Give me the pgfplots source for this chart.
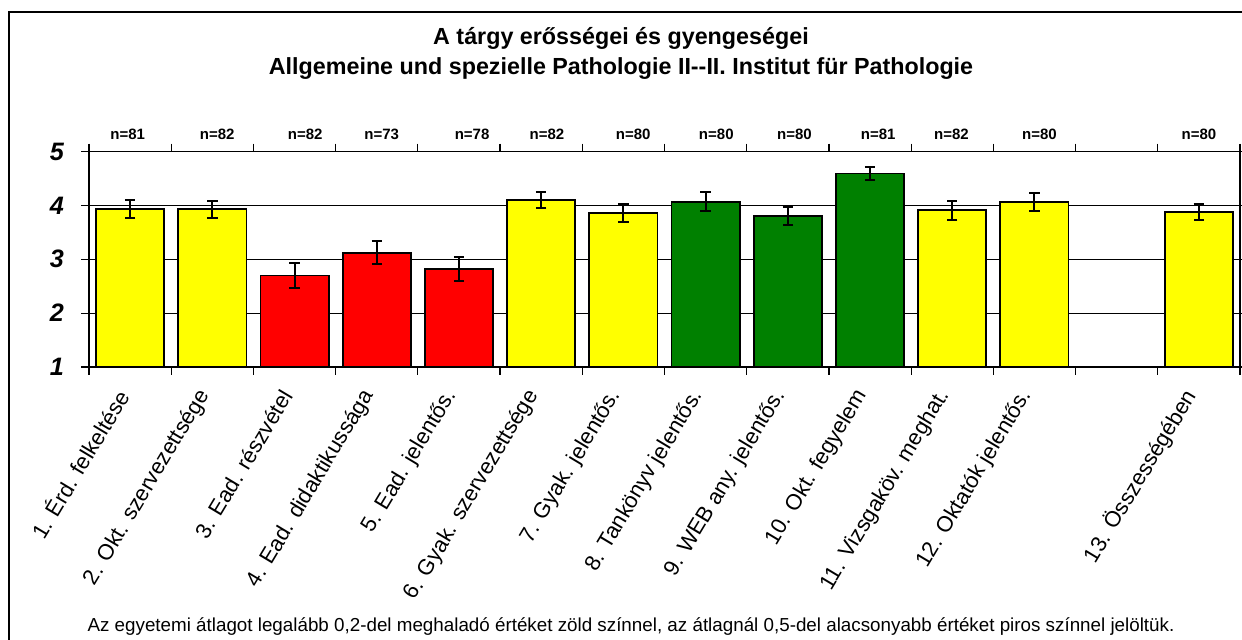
\documentclass[border=0pt]{standalone}
\usepackage{pgfplots}
\pgfplotsset{compat=1.18}
\usepackage{fontspec}
\setmainfont{Liberation Sans}
\definecolor{cyel}{RGB}{255,255,0}
\definecolor{cred}{RGB}{255,0,0}
\definecolor{cgrn}{RGB}{0,128,0}
\tikzset{nlab/.style={font=\bfseries\fontsize{7.5}{9}\selectfont, anchor=base, yshift=5.8pt}}
\begin{document}
\begin{tikzpicture}
\useasboundingbox (0pt,0pt) rectangle (621pt,-320pt);
\draw[line width=0.8pt] (4.5pt,-6pt) rectangle (640pt,-340pt);
\node[font=\bfseries\fontsize{11.65}{14}\selectfont, anchor=base] at (310.5pt,-22.15pt) {A tárgy erősségei és gyengeségei};
\node[font=\bfseries\fontsize{11.65}{14}\selectfont, anchor=base] at (310.5pt,-37.5pt) {Allgemeine und spezielle Pathologie II{-}{-}II. Institut für Pathologie};
\begin{axis}[
  at={(44.5pt,-183.5pt)}, anchor=south west,
  width=575.5pt, height=107.75pt, scale only axis,
  xmin=0.5, xmax=14.5, ymin=1, ymax=5,
  ybar, bar width=0.83, bar shift=0pt,
  ytick={1,2,3,4,5},
  ymajorgrids, grid style={black, line width=0.5pt},
  xtick={1,2,3,4,5,6,7,8,9,10,11,12,14},
  xticklabels={1. Érd. felkeltése,2. Okt. szervezettsége,3. Ead. részvétel,4. Ead. didaktikussága,5. Ead. jelentős.,6. Gyak. szervezettsége,7. Gyak. jelentős.,8. Tankönyv jelentős.,9. WEB any. jelentős.,10. Okt. fegyelem,11. Vizsgaköv. meghat.,12. Oktatók jelentős.,13. Összességében},
  minor xtick={0.5,1.5,...,14.5},
  major x tick style={draw=none},
  minor x tick style={black, line width=0.6pt},
  tick align=outside, major tick length=4pt, minor tick length=4pt,
  ytick style={black, line width=0.6pt},
  axis line style={black, line width=0.8pt},
  /pgf/number format/assume math mode=true,
  yticklabel style={font=\bfseries\itshape\fontsize{12.6}{14}\selectfont, xshift=-5pt},
  xticklabel style={font=\fontsize{11}{13}\selectfont, yshift=-5.5pt, xshift=-2pt, rotate=59, anchor=east},
  clip=false,
  error bars/y dir=both, error bars/y explicit,
  error bars/error mark options={black, line width=1pt, mark size=2.6pt, rotate=90},
  error bars/error bar style={black, line width=1pt},
]
\addplot[draw=black, line width=0.9pt, fill=cyel] coordinates {
  (1,3.93) +- (0,0.17)
  (2,3.93) +- (0,0.16)
  (6,4.10) +- (0,0.155)
  (7,3.86) +- (0,0.165)
  (11,3.91) +- (0,0.175)
  (12,4.06) +- (0,0.17)
  (14,3.88) +- (0,0.145)
};
\addplot[draw=black, line width=0.9pt, fill=cred] coordinates {
  (3,2.70) +- (0,0.23)
  (4,3.12) +- (0,0.21)
  (5,2.82) +- (0,0.22)
};
\addplot[draw=black, line width=0.9pt, fill=cgrn] coordinates {
  (8,4.07) +- (0,0.18)
  (9,3.80) +- (0,0.17)
  (10,4.59) +- (0,0.115)
};
\node[nlab] at (axis cs:0.97,5) {n=81};
\node[nlab] at (axis cs:2.06,5) {n=82};
\node[nlab] at (axis cs:3.13,5) {n=82};
\node[nlab] at (axis cs:4.06,5) {n=73};
\node[nlab] at (axis cs:5.16,5) {n=78};
\node[nlab] at (axis cs:6.07,5) {n=82};
\node[nlab] at (axis cs:7.12,5) {n=80};
\node[nlab] at (axis cs:8.13,5) {n=80};
\node[nlab] at (axis cs:9.08,5) {n=80};
\node[nlab] at (axis cs:10.1,5) {n=81};
\node[nlab] at (axis cs:10.99,5) {n=82};
\node[nlab] at (axis cs:12.06,5) {n=80};
\node[nlab] at (axis cs:14.0,5) {n=80};
\end{axis}
\node[font=\fontsize{9.4}{11}\selectfont, anchor=base] at (315.5pt,-316pt) {Az egyetemi átlagot legalább 0,2-del meghaladó értéket zöld színnel, az átlagnál 0,5-del alacsonyabb értéket piros színnel jelöltük.};
\end{tikzpicture}
\end{document}
